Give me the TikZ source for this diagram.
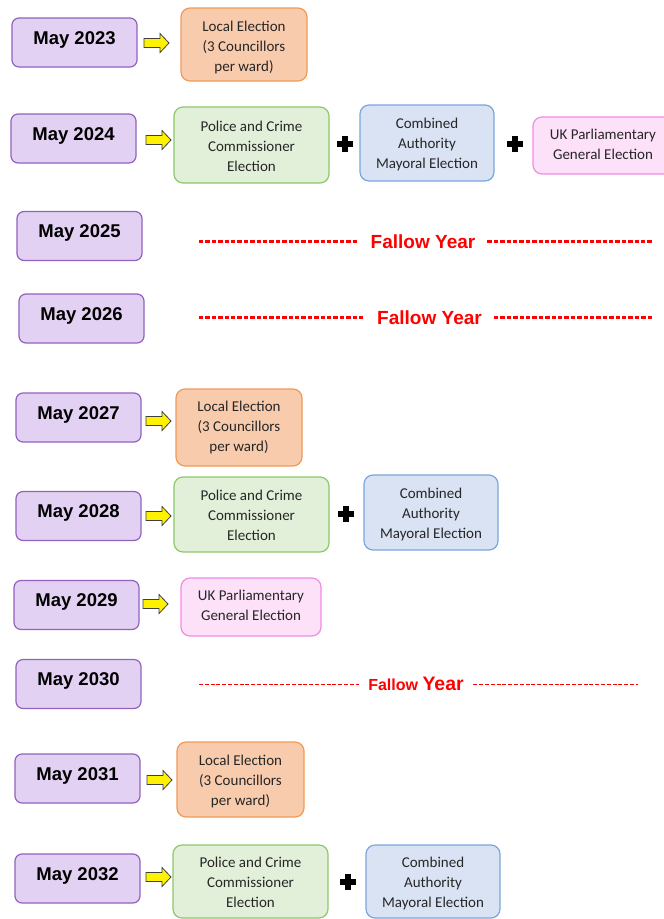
\documentclass[tikz,border=0pt]{standalone}
\usepackage{fontspec}
\newfontfamily\arial{Liberation Sans}
\newfontfamily\carlito{Carlito}
\definecolor{purpleF}{HTML}{E3D1F3}
\definecolor{purpleB}{HTML}{9262BE}
\definecolor{orangeF}{HTML}{F8CBAD}
\definecolor{orangeB}{HTML}{F19A58}
\definecolor{greenF}{HTML}{E2F0D9}
\definecolor{greenB}{HTML}{8DC86A}
\definecolor{blueF}{HTML}{DAE3F3}
\definecolor{blueB}{HTML}{7AA6DE}
\definecolor{pinkF}{HTML}{FCE1F8}
\definecolor{pinkB}{HTML}{F08BE6}
\definecolor{txt}{HTML}{262626}
\definecolor{fred}{HTML}{FF0000}
\tikzset{
  yearbox/.style={draw=purpleB, fill=purpleF, line width=1.2pt, rounded corners=7pt,
    minimum width=125pt, inner sep=0pt, text height=26.1pt, text depth=22.9pt,
    font=\arial\bfseries\fontsize{18.5}{22}\selectfont, text=black},
  evbox/.style={line width=1.2pt, rounded corners=9pt, inner sep=0pt},
  evtext/.style={align=center, inner sep=0pt, font=\carlito\fontsize{15}{20}\selectfont, text=txt},
  localbox/.style={evbox, draw=orangeB, fill=orangeF},
  pccbox/.style={evbox, draw=greenB, fill=greenF, minimum width=155pt},
  cabox/.style={evbox, draw=blueB, fill=blueF, minimum width=134pt},
  ukbox/.style={evbox, draw=pinkB, fill=pinkF, minimum width=140pt},
  fallowtxt/.style={text=fred, inner xsep=12pt, inner ysep=0pt,
    font=\arial\bfseries\fontsize{19}{22}\selectfont},
  fdash/.style={draw=fred, line width=2.2pt, dash pattern=on 4.4pt off 2pt},
  fdashthin/.style={draw=fred, line width=1.6pt, dash pattern=on 4pt off 1.8pt},
  yarrow/.pic={\draw[fill=yellow, draw=black!75, line width=0.8pt, line join=miter]
    (0,-4.5) -- (16,-4.5) -- (16,-9.5) -- (25,0) -- (16,9.5) -- (16,4.5) -- (0,4.5) -- cycle;},
  plussign/.pic={\fill[black] (-8,-3.1) rectangle (8,3.1); \fill[black] (-3.1,-7.6) rectangle (3.1,7.6);}
}
\begin{document}
\begin{tikzpicture}[x=1pt,y=-1pt]
\useasboundingbox (0,0) rectangle (664,919);
\clip (0,0) rectangle (664,919);
\fill[white] (0,0) rectangle (664,919);

% ---------- 2023
\node[yearbox] (y23) at (74.5,42.5) {May 2023};
\node[localbox, minimum width=126pt, minimum height=73pt] (l23) at (244,44.5) {};
\node[evtext] (l23t) at ([yshift=-3pt]l23.center) {Local Election\\(3 Councillors\\per ward)};
\pic at (144,43) {yarrow};

% ---------- 2024
\node[yearbox] (y24) at (73.5,138.5) {May 2024};
\node[pccbox, minimum height=76pt] (p24) at (251.5,145) {};
\node[evtext] (p24t) at ([yshift=-1pt]p24.center) {Police and Crime\\Commissioner\\Election};
\node[cabox, minimum height=76pt] (c24) at (427,143) {};
\node[evtext] (c24t) at ([yshift=-1.5pt]c24.center) {Combined\\Authority\\Mayoral Election};
\node[ukbox, minimum height=57pt] (u24) at (603,145.5) {};
\node[evtext] (u24t) at ([yshift=1pt]u24.center) {UK Parliamentary\\General Election};
\pic at (146,140) {yarrow};
\pic at (345,144) {plussign};
\pic at (515,144) {plussign};

% ---------- 2025
\node[yearbox] (y25) at (79.5,236) {May 2025};
\node[fallowtxt] (f25) at (423,241.5) {Fallow Year};
\coordinate (f25l) at (199,241);
\coordinate (f25r) at (653,241);
\draw[fdash] (f25l |- f25.west) -- (f25.west);
\draw[fdash] (f25.east) -- (f25r |- f25.east);

% ---------- 2026
\node[yearbox] (y26) at (81.5,318.5) {May 2026};
\node[fallowtxt] (f26) at (429.5,317.5) {Fallow Year};
\coordinate (f26l) at (199,317);
\coordinate (f26r) at (653,317);
\draw[fdash] (f26l |- f26.west) -- (f26.west);
\draw[fdash] (f26.east) -- (f26r |- f26.east);

% ---------- 2027
\node[yearbox] (y27) at (78.5,417.5) {May 2027};
\node[localbox, minimum width=126pt, minimum height=77pt] (l27) at (239,427.5) {};
\node[evtext] (l27t) at (l27.center) {Local Election\\(3 Councillors\\per ward)};
\pic at (146,421) {yarrow};

% ---------- 2028
\node[yearbox] (y28) at (78.5,516) {May 2028};
\node[pccbox, minimum height=75pt] (p28) at (251.5,514.5) {};
\node[evtext] (p28t) at ([yshift=-1pt]p28.center) {Police and Crime\\Commissioner\\Election};
\node[cabox, minimum height=75pt] (c28) at (431,512.5) {};
\node[evtext] (c28t) at ([yshift=-2pt]c28.center) {Combined\\Authority\\Mayoral Election};
\pic at (146,516) {yarrow};
\pic at (346,514) {plussign};

% ---------- 2029
\node[yearbox] (y29) at (76.5,605) {May 2029};
\node[ukbox, minimum height=58pt] (u29) at (251,607) {};
\node[evtext] (u29t) at ([yshift=1.5pt]u29.center) {UK Parliamentary\\General Election};
\pic at (143,604) {yarrow};

% ---------- 2030
\node[yearbox] (y30) at (78.5,684) {May 2030};
\node[text=fred, inner xsep=9.5pt, inner ysep=0pt, font=\arial\bfseries] (f30) at (416,683.5)
  {\fontsize{16}{20}\selectfont Fallow \fontsize{19.5}{22}\selectfont Year};
\coordinate (f30l) at (199,684.5);
\coordinate (f30r) at (638,684.5);
\draw[fdashthin] (f30l) -- (f30.west |- f30l);
\draw[fdashthin] (f30.east |- f30r) -- (f30r);

% ---------- 2031
\node[yearbox] (y31) at (77.5,778.5) {May 2031};
\node[localbox, minimum width=127pt, minimum height=75pt] (l31) at (240.5,779.5) {};
\node[evtext] (l31t) at ([yshift=-2pt]l31.center) {Local Election\\(3 Councillors\\per ward)};
\pic at (147,780) {yarrow};

% ---------- 2032
\node[yearbox] (y32) at (77.5,878.5) {May 2032};
\node[pccbox, minimum height=73pt] (p32) at (250.5,881.5) {};
\node[evtext] (p32t) at ([yshift=-1pt]p32.center) {Police and Crime\\Commissioner\\Election};
\node[cabox, minimum height=73pt] (c32) at (433,881.5) {};
\node[evtext] (c32t) at ([yshift=-1.5pt]c32.center) {Combined\\Authority\\Mayoral Election};
\pic at (146,877) {yarrow};
\pic at (348,882) {plussign};
\end{tikzpicture}
\end{document}
